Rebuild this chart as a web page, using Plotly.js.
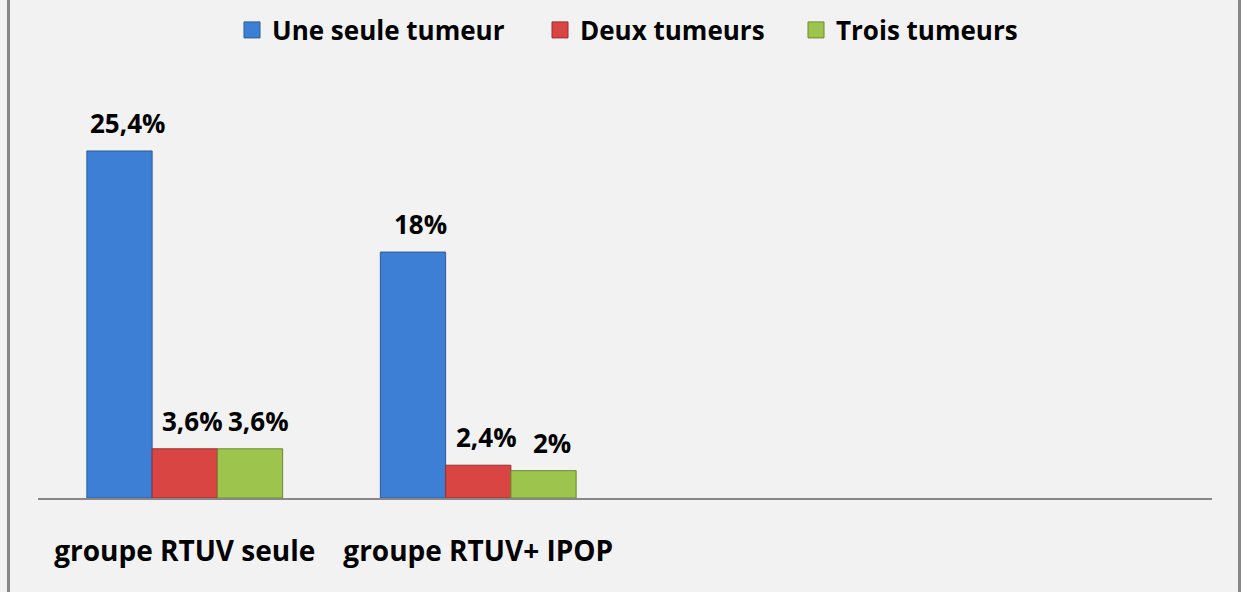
<!DOCTYPE html>
<html>
<head>
<meta charset="utf-8">
<script src="https://cdn.plot.ly/plotly-3.0.1.min.js"></script>
<style>html,body{margin:0;padding:0;background:#f2f2f2;}#chart{width:1241px;height:592px;}</style>
</head>
<body>
<div id="chart"></div>
<script>
const categories = ["groupe RTUV seule", "groupe RTUV+ IPOP"];
const seriesNames = ["Une seule tumeur", "Deux tumeurs", "Trois tumeurs"];
const uneSeule = [25.4, 18];
const deux = [3.6, 2.4];
const trois = [3.6, 2];
const labelsUne = ["25,4%", "18%"];
const labelsDeux = ["3,6%", "2,4%"];
const labelsTrois = ["3,6%", "2%"];

const colors = ["#3e7fd6", "#d84542", "#9dc44c"];
const lineColors = ["#2b5b99", "#9c2f2d", "#6b8a2c"];
const allValues = [uneSeule, deux, trois];
const allLabels = [labelsUne, labelsDeux, labelsTrois];
const xPos = categories.map((c, i) => i);
const font = "'Open Sans', sans-serif";
const legendIds = ["legend", "legend2", "legend3"];
const legendLeftPx = [232, 540, 796];

const traces = [];
allValues.forEach((vals, s) => {
  traces.push({
    type: "bar", name: seriesNames[s], x: xPos, y: vals, showlegend: false,
    marker: {color: colors[s], line: {color: lineColors[s], width: 1}}, hoverinfo: "skip"
  });
});
seriesNames.forEach((n, s) => {
  traces.push({
    type: "scatter", mode: "markers", name: n, x: [null], y: [null], showlegend: true, legend: legendIds[s],
    marker: {symbol: "square", size: 16, color: colors[s], line: {color: lineColors[s], width: 1}}
  });
});

const bargap = 0.333;
const slotPx = (1212 - 38) / 4;
const barPx = slotPx * (1 - bargap) / 3;
const annotations = [];
allValues.forEach((vals, s) => {
  vals.forEach((v, i) => {
    annotations.push({
      xref: "x", yref: "y", x: xPos[i], y: v,
      xshift: (s - 1) * barPx + 8, yshift: 28,
      text: allLabels[s][i], showarrow: false,
      font: {family: font, size: 26, color: "#000", weight: "bold"}
    });
  });
});

const layout = {
  width: 1241, height: 592,
  paper_bgcolor: "#f2f2f2", plot_bgcolor: "#f2f2f2",
  margin: {l: 38, r: 29, t: 100, b: 94},
  barmode: "group", bargap: bargap, bargroupgap: 0,
  showlegend: true,
  xaxis: {range: [-0.5, 3.5], tickvals: xPos, ticktext: categories, showgrid: false, zeroline: false,
    showline: true, linecolor: "#888", linewidth: 2, ticks: "outside", ticklen: 27, tickcolor: "rgba(0,0,0,0)",
    tickfont: {family: font, size: 28, color: "#000", weight: "bold"}, fixedrange: true},
  yaxis: {range: [0, 29.13], visible: false, showgrid: false, zeroline: false, fixedrange: true},
  annotations: annotations,
  shapes: [
    {type: "line", xref: "paper", yref: "paper", x0: -29.5/1174, x1: -29.5/1174, y0: -94/398, y1: 498/398,
      line: {color: "#888", width: 3}},
    {type: "line", xref: "paper", yref: "paper", x0: 1201.5/1174, x1: 1201.5/1174, y0: -94/398, y1: 498/398,
      line: {color: "#888", width: 3}}
  ]
};
legendIds.forEach((id, s) => {
  layout[id] = {orientation: "h", x: legendLeftPx[s] / 1241, xanchor: "left", xref: "container",
    y: 1 - 30/592, yref: "container", yanchor: "middle",
    font: {family: font, size: 26, color: "#000", weight: "bold"}, bgcolor: "rgba(0,0,0,0)", itemwidth: 30};
});

Plotly.newPlot("chart", traces, layout, {displayModeBar: false, staticPlot: true});
</script>
</body>
</html>
